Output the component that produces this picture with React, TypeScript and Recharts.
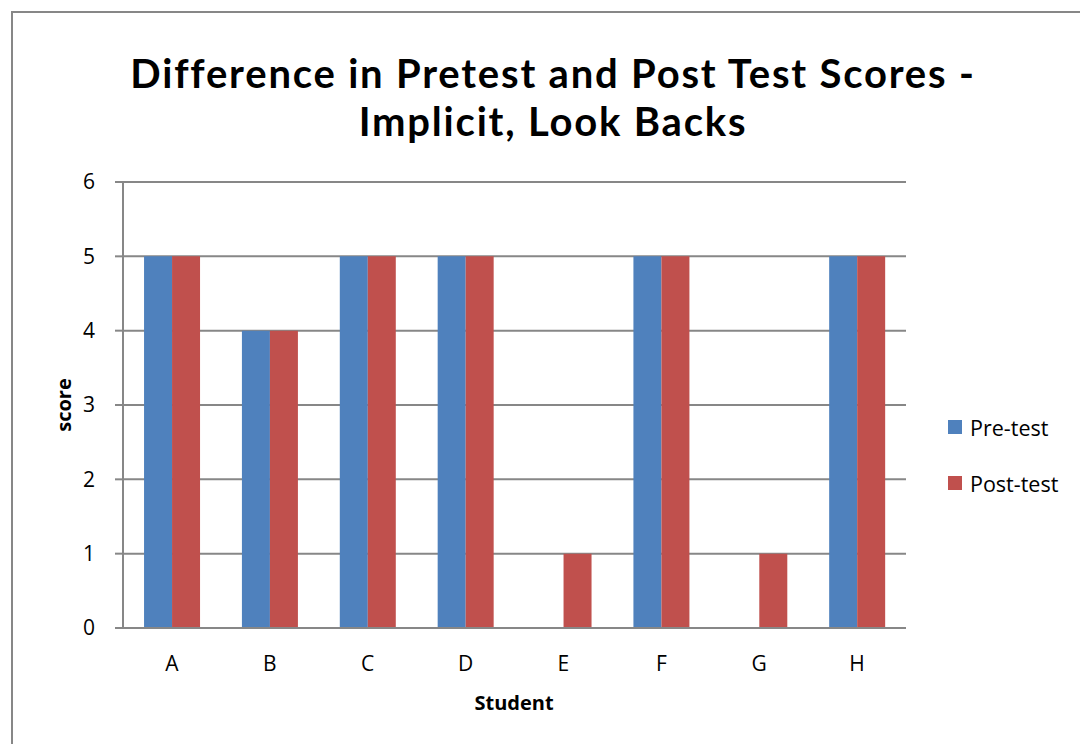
import { Bar, BarChart, CartesianGrid, XAxis, YAxis } from "recharts"

const students = ["A", "B", "C", "D", "E", "F", "G", "H"]
const preTest = [5, 4, 5, 5, 0, 5, 0, 5]
const postTest = [5, 4, 5, 5, 1, 5, 1, 5]
const yTicks = [0, 1, 2, 3, 4, 5, 6]
const titleLines = ["Difference in Pretest and Post Test Scores -", "Implicit, Look Backs"]

const data = students.map((name, i) => ({
  name,
  pre: preTest[i],
  post: postTest[i],
}))

const FONT = "'Open Sans', 'Liberation Sans', sans-serif"
const TITLE_FONT = "Lato, 'Open Sans', sans-serif"
const GRID = "#878787"

const legendItems = [
  { label: "Pre-test", color: "#4f81bd" },
  { label: "Post-test", color: "#c0504d" },
]

function LegendBox() {
  return (
    <div style={{ position: "absolute", left: 948, top: 413, fontFamily: FONT, fontSize: 21.5, color: "#000" }}>
      {legendItems.map((it, i) => (
        <div key={it.label} style={{ display: "flex", alignItems: "center", height: 28, marginTop: i ? 28 : 0 }}>
          <span style={{ width: 14, height: 14, background: it.color, marginRight: 8, display: "inline-block" }} />
          {it.label}
        </div>
      ))}
    </div>
  )
}

export default function App() {
  return (
    <div style={{ position: "absolute", left: 0, top: 0, width: 1080, height: 744, overflow: "hidden", background: "#fff" }}>
      <div
        style={{
          position: "absolute",
          left: 11,
          top: 11,
          width: 1200,
          height: 900,
          borderLeft: "2px solid #878787",
          borderTop: "2px solid #878787",
        }}
      />
      {titleLines.map((line, i) => (
        <div
          key={line}
          style={{
            position: "absolute",
            left: 40,
            width: 1026,
            top: 53 + i * 48,
            textAlign: "center",
            fontFamily: TITLE_FONT,
            fontWeight: 700,
            fontSize: 40,
            lineHeight: "40px",
            letterSpacing: 1.8,
            color: "#000",
            whiteSpace: "nowrap",
          }}
        >
          {line}
        </div>
      ))}
      <div
        style={{
          position: "absolute",
          left: 63,
          top: 405,
          transform: "translate(-50%, -50%) rotate(-90deg)",
          fontFamily: FONT,
          fontWeight: 700,
          fontSize: 20,
        }}
      >
        score
      </div>
      <div
        style={{
          position: "absolute",
          left: 514,
          top: 702,
          transform: "translate(-50%, -50%)",
          fontFamily: FONT,
          fontWeight: 700,
          fontSize: 20,
        }}
      >
        Student
      </div>
      <div style={{ position: "absolute", left: 0, top: 0 }}>
        <BarChart
          width={1080}
          height={744}
          data={data}
          margin={{ top: 182, right: 174, bottom: 0, left: 63 }}
          barCategoryGap="21.5%"
          barGap={0}
        >
          <CartesianGrid vertical={false} stroke={GRID} strokeWidth={2} />
          <XAxis
            dataKey="name"
            height={116}
            tickLine={false}
            axisLine={{ stroke: GRID, strokeWidth: 2 }}
            tickSize={0}
            tickMargin={28}
            tick={{ fill: "#000", fontSize: 21, fontFamily: FONT }}
          />
          <YAxis
            width={60}
            domain={[0, 6]}
            ticks={yTicks}
            interval={0}
            axisLine={{ stroke: GRID, strokeWidth: 2 }}
            tickLine={{ stroke: GRID, strokeWidth: 2 }}
            tickSize={8}
            tickMargin={20}
            tick={{ fill: "#000", fontSize: 21, fontFamily: FONT }}
          />
          <Bar dataKey="pre" name="Pre-test" fill="#4f81bd" isAnimationActive={false} />
          <Bar dataKey="post" name="Post-test" fill="#c0504d" isAnimationActive={false} />
        </BarChart>
      </div>
      <LegendBox />
    </div>
  )
}
